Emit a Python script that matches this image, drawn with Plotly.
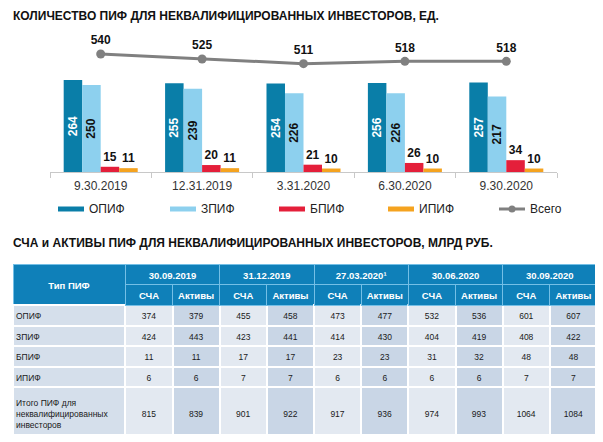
import plotly.graph_objects as go

# ---------------- data ----------------
dates = ["9.30.2019", "12.31.2019", "3.31.2020", "6.30.2020", "9.30.2020"]
opif = [264, 255, 254, 256, 257]
zpif = [250, 239, 226, 226, 217]
bpif = [15, 20, 21, 26, 34]
ipif = [11, 11, 10, 10, 10]
total = [540, 525, 511, 518, 518]

series_names = ["ОПИФ", "ЗПИФ", "БПИФ", "ИПИФ", "Всего"]
colors = ["#0a7ea8", "#8dd0ee", "#e41f3a", "#f5a31f", "#808080"]

title1 = "КОЛИЧЕСТВО ПИФ ДЛЯ НЕКВАЛИФИЦИРОВАННЫХ ИНВЕСТОРОВ, ЕД."
title2 = "СЧА и АКТИВЫ ПИФ ДЛЯ НЕКВАЛИФИЦИРОВАННЫХ ИНВЕСТОРОВ, МЛРД РУБ."

table_dates = ["30.09.2019", "31.12.2019", "27.03.2020¹", "30.06.2020", "30.09.2020"]
table_corner = "Тип ПИФ"
sub_headers = ["СЧА", "Активы"]
row_names = ["ОПИФ", "ЗПИФ", "БПИФ", "ИПИФ", "Итого ПИФ для<br>неквалифицированных<br>инвесторов"]
t_opif = [374, 379, 455, 458, 473, 477, 532, 536, 601, 607]
t_zpif = [424, 443, 423, 441, 414, 430, 404, 419, 408, 422]
t_bpif = [11, 11, 17, 17, 23, 23, 31, 32, 48, 48]
t_ipif = [6, 6, 7, 7, 6, 6, 6, 6, 7, 7]
t_total = [815, 839, 901, 922, 917, 936, 974, 993, 1064, 1084]

# ---------------- figure ----------------
OFF = 8  # page body margin
W, H = 603 - OFF, 442 - OFF
FONT = "Liberation Sans, Arial, sans-serif"


def px_x(p):
    return max(0.0, (p - OFF) / W)


def px_y(p):
    return 1 - (p - OFF) / H


fig = go.Figure()

bar_sets = [opif, zpif, bpif, ipif]
for i, vals in enumerate(bar_sets):
    if i < 2:
        fig.add_trace(go.Bar(
            x=dates, y=vals, name=series_names[i], marker_color=colors[i],
            text=[str(v) for v in vals], textposition="inside",
            insidetextanchor="middle", textangle=-90, constraintext="none",
            textfont=dict(family=FONT, size=12, weight="bold",
                          color="white" if i == 0 else "#111"),
            showlegend=False, marker_line_width=0,
        ))
    else:
        fig.add_trace(go.Bar(
            x=dates, y=vals, name=series_names[i], marker_color=colors[i],
            text=[str(v) for v in vals], textposition="outside", textangle=0,
            constraintext="none", cliponaxis=False,
            textfont=dict(family=FONT, size=12, weight="bold", color="#111"),
            showlegend=False, marker_line_width=0,
        ))

fig.add_trace(go.Scatter(
    x=dates, y=total, name=series_names[4], yaxis="y2",
    mode="lines+markers+text", text=[str(v) for v in total],
    textposition="top center",
    textfont=dict(family=FONT, size=12, weight="bold", color="#111"),
    line=dict(color=colors[4], width=3), marker=dict(size=9, color=colors[4]),
    showlegend=False, cliponaxis=False,
))

# ---------------- tables ----------------
blue = "#0f80b9"
hline = "#74bfe6"
name_fill = "#d5dfeb"
sca_fill = "#e3e9f1"
act_fill = "#c9d6e6"
clear = "rgba(0,0,0,0)"
txt = "#1a1a1a"

tbl_x = [px_x(13), px_x(597)]

# top header row (merged date cells); corner cell blank here
ngrp = len(table_dates) + 1
fig.add_trace(go.Table(
    domain=dict(x=tbl_x, y=[px_y(330), px_y(264)]),
    columnwidth=[112] + [94] * len(table_dates),
    header=dict(
        values=[""] + table_dates,
        fill_color=blue, line=dict(color=hline, width=1),
        font=dict(family=FONT, size=9.5, weight="bold", color="white"),
        align="center", height=41,
    ),
    cells=dict(values=[[""] for _ in range(ngrp)], height=10,
               fill_color=clear, line=dict(color=clear, width=0)),
))

# corner label, vertically centred over both header rows
fig.add_trace(go.Table(
    domain=dict(x=[px_x(13), px_x(125)], y=[px_y(330), px_y(274)]),
    columnwidth=[1],
    header=dict(
        values=[table_corner.replace(" ", "\u00a0")],
        fill_color=clear, line=dict(color=clear, width=0),
        font=dict(family=FONT, size=9.5, weight="bold", color="white"),
        align="center", height=20,
    ),
    cells=dict(values=[[""]], height=10, fill_color=clear,
               line=dict(color=clear, width=0)),
))

name_text = ["<br>" + n if k == len(row_names) - 1 else n for k, n in enumerate(row_names)]
# blank placeholders with the same line structure (keeps the row heights)
name_blank = ["<br>".join("\u00a0" if part else "" for part in n.split("<br>"))
              for n in name_text]

rows = [t_opif, t_zpif, t_bpif, t_ipif, t_total]
ncol = len(t_opif)
cols = [name_blank]
for j in range(ncol):
    col = []
    for k, r in enumerate(rows):
        s = str(r[j])
        if k == len(rows) - 1:
            s = "<br><br>" + s
        col.append(s)
    cols.append(col)

sub_vals = [""] + [sub_headers[j % 2] for j in range(ncol)]
fills = [name_fill] + [sca_fill if j % 2 == 0 else act_fill for j in range(ncol)]

body_y = [0, px_y(284)]
fig.add_trace(go.Table(
    domain=dict(x=tbl_x, y=body_y),
    columnwidth=[112] + [47] * ncol,
    header=dict(
        values=sub_vals,
        fill_color=[clear] + [blue] * ncol,
        line=dict(color=[clear] + [hline] * ncol, width=1),
        font=dict(family=FONT, size=9.5, weight="bold", color="white"),
        align="center", height=21,
    ),
    cells=dict(
        values=cols, fill_color=fills,
        line=dict(color="white", width=2),
        font=dict(family=FONT, size=8.5, color=txt),
        align=["left"] + ["center"] * ncol, height=20.5,
    ),
))

# row-name column text (overlay so the text sits near the cell edge)
fig.add_trace(go.Table(
    domain=dict(x=[px_x(8), px_x(125)], y=body_y),
    columnwidth=[1],
    header=dict(values=[""], fill_color=clear, line=dict(color=clear, width=0),
                height=21),
    cells=dict(
        values=[name_text],
        fill_color=clear, line=dict(color=clear, width=0),
        font=dict(family=FONT, size=8.5, color=txt),
        align="left", height=20.5,
    ),
))

# ---------------- legend (manual) ----------------
shapes = []
annotations = []
leg_y = 209
leg_x = [58, 170, 279, 388, 499]
for i in range(5):
    x0 = leg_x[i]
    if i < 4:
        shapes.append(dict(type="rect", xref="paper", yref="paper",
                           x0=px_x(x0), x1=px_x(x0 + 26),
                           y0=px_y(leg_y + 2.5), y1=px_y(leg_y - 2.5),
                           fillcolor=colors[i], line_width=0))
    else:
        shapes.append(dict(type="line", xref="paper", yref="paper",
                           x0=px_x(x0), x1=px_x(x0 + 26),
                           y0=px_y(leg_y), y1=px_y(leg_y),
                           line=dict(color=colors[i], width=3)))
        shapes.append(dict(type="circle", xref="paper", yref="paper",
                           x0=px_x(x0 + 13 - 3.5), x1=px_x(x0 + 13 + 3.5),
                           y0=px_y(leg_y + 3.5), y1=px_y(leg_y - 3.5),
                           fillcolor=colors[i], line_width=0))
    annotations.append(dict(text=series_names[i], xref="paper", yref="paper",
                            x=px_x(x0 + 29), y=px_y(leg_y), xanchor="left",
                            yanchor="middle", showarrow=False,
                            font=dict(family=FONT, size=12, color="#222")))

annotations.append(dict(text="<b>%s</b>" % title1, xref="paper", yref="paper",
                        x=px_x(11), y=px_y(16), xanchor="left", yanchor="middle",
                        showarrow=False, font=dict(family=FONT, size=12, color="#111")))
annotations.append(dict(text="<b>%s</b>" % title2, xref="paper", yref="paper",
                        x=px_x(11), y=px_y(243), xanchor="left", yanchor="middle",
                        showarrow=False, font=dict(family=FONT, size=12, color="#111")))

fig.update_layout(
    width=W, height=H, margin=dict(l=0, r=0, t=0, b=0),
    paper_bgcolor="white", plot_bgcolor="white",
    barmode="group", bargap=0.27, bargroupgap=0,
    showlegend=False,
    font=dict(family=FONT),
    xaxis=dict(domain=[px_x(50), px_x(557)], showgrid=False, showline=True,
               linecolor="#c8c8c8", linewidth=1, ticks="outside", tickson="boundaries",
               ticklen=5, tickcolor="#c8c8c8", ticklabelstandoff=3,
               tickfont=dict(family=FONT, size=12, color="#333"), fixedrange=True),
    yaxis=dict(domain=[px_y(172), px_y(30)], range=[0, 408], visible=False),
    yaxis2=dict(domain=[px_y(172), px_y(30)], range=[186.7, 611.8], visible=False,
                overlaying="y"),
    shapes=shapes, annotations=annotations,
)

fig.write_html("out.html")
